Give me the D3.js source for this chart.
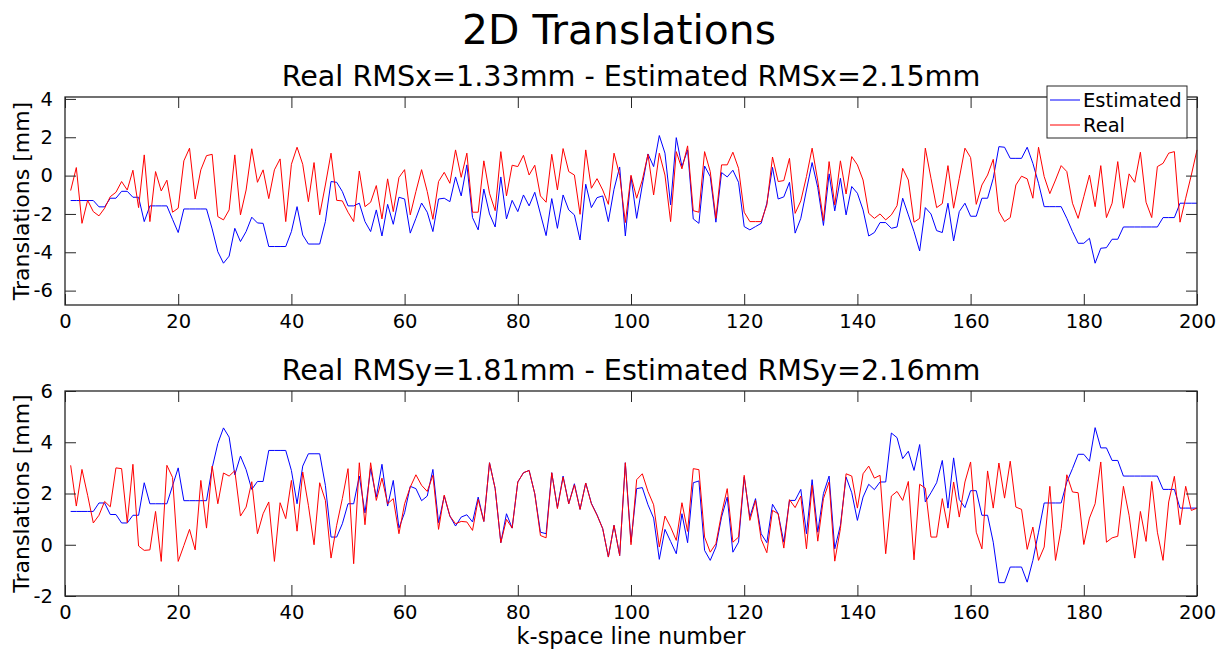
<!DOCTYPE html>
<html><head><meta charset="utf-8">
<script src="https://cdn.jsdelivr.net/npm/d3@7"></script>
<style>body{margin:0;background:#fff;} svg{display:block;} text{font-family:"DejaVu Sans",sans-serif;fill:#000;}</style>
</head><body>
<svg id="c" width="1226" height="652"></svg>
<script>
const mainTitle = "2D Translations";
const titleX = "Real RMSx=1.33mm - Estimated RMSx=2.15mm";
const titleY = "Real RMSy=1.81mm - Estimated RMSy=2.16mm";
const yLabel = "Translations [mm]";
const xLabel = "k-space line number";
const seriesNames = ["Estimated", "Real"];
const seriesColors = ["#0000ff", "#ff0000"];
const xTicks = [0,20,40,60,80,100,120,140,160,180,200];
const yTicksTop = [-6,-4,-2,0,2,4];
const yTicksBottom = [-2,0,2,4,6];

const estX = [
-1.3,-1.3,-1.3,-1.3,-1.3,-1.63,-1.63,-1.18,-1.18,-0.82,
-0.82,-1.13,-1.13,-2.4,-1.58,-1.58,-1.58,-1.58,-2.28,-2.97,
-1.74,-1.74,-1.74,-1.74,-1.74,-2.78,-3.97,-4.57,-4.2,-2.75,
-3.44,-2.92,-2.17,-2.47,-2.49,-3.7,-3.7,-3.7,-3.7,-2.92,
-1.62,-3.1,-3.57,-3.57,-3.57,-2.4,-0.31,-0.35,-0.83,-1.58,
-1.58,-1.44,-2.4,-2.92,-1.79,-3.15,-1.5,-2.54,-1.13,-1.22,
-3.0,-2.23,-1.43,-1.91,-2.92,-1.22,-1.18,-1.36,-0.07,-1.06,
0.56,-2.19,-2.83,-0.7,-2.0,-2.68,-0.07,-2.26,-1.29,-1.88,
-1.01,-1.58,-0.87,-2.0,-3.13,-1.2,-2.75,-1.01,-1.79,-2.05,
-3.36,-0.45,-1.67,-1.15,-1.06,-2.4,-0.71,0.45,-3.15,-0.05,
-2.23,-0.49,1.13,0.47,2.09,1.17,-1.53,1.98,0.47,1.34,
-2.26,-2.49,0.5,-0.05,-2.43,0.16,-0.07,0.28,-0.35,-2.66,
-2.83,-2.66,-2.49,-1.44,0.43,-1.22,-1.11,-0.35,-3.0,-2.23,
-0.75,0.68,-0.63,-2.6,0.09,-1.84,-0.14,-2.05,-0.57,-0.92,
-1.79,-3.15,-2.97,-2.45,-2.45,-2.75,-2.68,-1.18,-2.05,-2.92,
-3.93,-1.67,-2.0,-2.87,-2.97,-1.44,-3.41,-1.88,-1.44,-2.12,
-2.12,-1.18,-1.18,-0.14,1.51,1.48,0.9,0.9,0.9,1.48,
0.64,-0.4,-1.62,-1.62,-1.62,-1.62,-2.23,-2.92,-3.53,-3.53,
-3.27,-4.57,-3.79,-3.76,-3.32,-3.32,-2.68,-2.68,-2.68,-2.68,
-2.68,-2.68,-2.68,-2.19,-2.19,-2.19,-1.44,-1.44,-1.44,-1.44];

const realX = [
-0.78,0.42,-2.49,-1.29,-1.88,-2.1,-1.7,-1.1,-0.87,-0.31,
-0.75,0.28,-1.67,1.08,-2.4,0.21,-0.8,-0.24,-1.91,-1.7,
0.77,1.43,-1.22,0.3,1.04,1.11,-2.14,-2.31,-1.79,1.08,
-2.05,-0.75,1.4,-0.35,0.3,-1.2,0.3,0.87,-2.4,0.59,
1.48,0.59,-1.36,0.68,-2.05,-0.49,1.17,-1.29,-1.32,-1.91,
-2.4,0.24,-1.62,-1.39,-0.52,-2.26,-0.17,-1.88,-0.1,0.31,
-2.05,-0.83,0.31,-0.83,-2.28,-0.31,0.17,-0.4,1.34,-0.09,
1.17,-1.91,-1.91,0.77,-0.92,-1.83,1.25,-1.06,0.54,0.47,
1.06,0.03,0.54,-1.06,-1.39,1.11,-0.75,1.41,0.21,0.03,
-2.02,1.34,-0.66,-0.16,-0.75,-1.5,1.17,0.02,-2.45,0.02,
-1.18,-0.23,1.11,-1.01,1.17,0.03,-2.4,1.25,0.35,1.55,
-1.83,-1.91,1.25,0.21,-2.23,0.56,0.56,1.22,0.38,-1.91,
-2.4,-2.4,-2.4,-1.53,0.97,-0.31,-0.26,0.9,-1.97,-1.32,
-0.05,1.43,-0.28,-2.35,0.73,-1.53,0.77,-0.96,0.99,0.56,
-0.23,-1.97,-2.23,-2.0,-2.31,-2.05,-1.57,0.38,-0.23,-2.43,
-2.23,1.43,-0.14,-1.67,-1.46,0.52,-1.7,-0.14,1.43,0.94,
-1.5,-0.49,0.03,0.85,-1.88,-2.4,-2.19,-0.49,-0.03,-0.17,
-1.18,1.48,-0.05,-0.94,-0.23,0.52,0.21,-1.44,-2.23,-1.1,
0.03,-1.62,0.52,-2.19,-1.44,0.73,-1.7,0.09,-0.35,1.22,
-1.39,-2.19,0.47,0.64,1.17,1.25,-2.43,-1.18,0.03,1.34];

const estY = [
1.3,1.3,1.3,1.3,1.3,1.63,1.63,1.18,1.18,0.85,
0.85,1.15,1.15,2.42,1.6,1.6,1.6,1.6,2.3,3.0,
1.72,1.72,1.72,1.72,1.72,3.0,3.95,4.56,4.2,2.73,
3.46,2.93,2.16,2.47,2.47,3.68,3.68,3.68,3.68,2.9,
1.6,3.07,3.55,3.55,3.55,2.32,0.3,0.3,0.82,1.6,
1.6,2.68,1.24,2.97,1.86,3.14,1.51,2.51,0.65,1.25,
2.28,2.19,1.72,1.9,2.94,0.86,1.9,1.12,0.73,1.08,
1.17,0.89,1.86,0.91,3.2,2.19,0.08,1.21,0.65,2.45,
2.81,2.9,1.99,0.49,0.43,2.81,1.45,2.68,1.6,2.38,
1.38,2.41,1.62,1.17,0.63,-0.48,0.76,-0.42,3.2,0.1,
2.19,2.23,1.56,1.04,-0.57,0.6,0.13,-0.35,1.21,0.08,
2.42,2.49,-0.22,-0.61,-0.09,1.08,1.86,-0.29,0.1,2.64,
1.08,1.8,0.43,0.08,1.58,1.21,0.1,1.73,1.73,2.16,
0.43,2.54,0.49,2.0,2.68,-0.16,0.76,2.64,2.03,0.95,
1.86,2.36,2.15,2.45,2.45,4.36,4.18,3.36,3.65,2.9,
3.91,1.67,2.03,2.42,3.29,1.43,3.39,1.77,1.45,2.11,
2.11,1.15,1.15,0.1,-1.48,-1.48,-0.87,-0.87,-0.87,-1.46,
-0.61,0.49,1.63,1.63,1.63,1.63,2.45,2.97,3.53,3.53,
3.26,4.57,3.78,3.78,3.29,3.29,2.68,2.68,2.68,2.68,
2.68,2.68,2.68,2.16,2.16,2.16,1.43,1.43,1.43,1.43];

const realY = [
3.1,1.51,2.94,1.93,0.85,1.15,1.69,1.48,3.0,2.97,
0.86,3.14,-0.05,-0.22,-0.2,1.3,-0.65,3.1,2.63,-0.65,
-0.03,0.6,-0.2,2.51,0.65,3.07,1.6,2.8,2.68,2.89,
1.12,1.47,2.46,0.43,1.21,1.67,-0.65,1.64,1.02,2.51,
0.53,2.84,1.54,0.0,2.42,1.73,-0.52,0.76,1.8,2.97,
-0.74,3.2,0.78,3.2,1.73,2.6,1.6,1.8,0.43,1.6,
2.25,2.73,2.32,2.08,2.71,0.6,1.94,1.12,0.82,0.91,
0.89,0.56,1.77,0.91,3.2,2.19,0.08,0.99,0.65,2.45,
2.81,2.9,1.99,0.36,0.27,2.81,1.41,2.64,1.6,2.34,
1.38,2.41,1.6,1.15,0.63,-0.48,0.76,-0.42,3.2,0.0,
2.54,2.77,2.08,1.56,-0.09,1.12,0.69,0.17,1.64,0.52,
2.97,2.93,0.3,-0.29,0.04,1.21,2.19,0.1,0.3,2.71,
0.95,1.73,0.21,-0.31,1.34,1.21,-0.13,1.76,1.45,1.9,
-0.16,2.32,0.14,1.8,2.45,-0.64,0.63,2.77,2.68,1.43,
2.77,3.07,2.6,2.71,-0.35,1.9,2.08,1.73,2.47,-0.59,
2.36,2.21,0.3,0.3,1.8,0.65,2.45,1.08,2.45,3.23,
0.49,-0.16,2.88,1.43,3.19,1.82,3.26,1.47,1.38,-0.18,
0.69,-0.61,-0.09,2.28,-0.61,0.63,2.73,2.06,2.03,0.01,
1.04,1.6,3.23,0.1,0.27,0.33,2.28,1.15,-0.52,1.3,
0.13,2.47,0.49,-0.61,1.67,2.67,0.78,2.28,1.34,1.43];

const lineIndex = d3.range(1, 201);

const svg = d3.select("#c");
const axisColor = "#262626";
const L = 65, R = 1197;
const x = d3.scaleLinear().domain([0, 200]).range([L, R]);

function panel(top, bottom, yDomain, yTicks, est, real, title, showXLabel) {
  const y = d3.scaleLinear().domain(yDomain).range([bottom, top]);
  const g = svg.append("g");
  const line = d3.line().x((d, i) => x(lineIndex[i])).y(d => y(d));
  g.append("path").datum(est).attr("d", line).attr("fill", "none")
    .attr("stroke", seriesColors[0]).attr("stroke-width", 1);
  g.append("path").datum(real).attr("d", line).attr("fill", "none")
    .attr("stroke", seriesColors[1]).attr("stroke-width", 1);

  const styleAxis = a => {
    a.select(".domain").remove();
    a.selectAll(".tick line").attr("stroke", axisColor).attr("stroke-width", 1);
    a.selectAll(".tick text").attr("fill", axisColor)
      .style("font-family", "DejaVu Sans").style("font-size", "19.5px");
  };
  const fmt = d => (d < 0 ? "-" + Math.abs(d) : "" + d);
  g.append("g").attr("transform", `translate(0,${bottom})`)
    .call(d3.axisBottom(x).tickValues(xTicks).tickSize(-11).tickPadding(9).tickFormat(fmt)).call(styleAxis);
  g.append("g").attr("transform", `translate(0,${top})`)
    .call(d3.axisTop(x).tickValues(xTicks).tickSize(-11).tickFormat("")).call(styleAxis);
  g.append("g").attr("transform", `translate(${L},0)`)
    .call(d3.axisLeft(y).tickValues(yTicks).tickSize(-11).tickPadding(12).tickFormat(fmt)).call(styleAxis);
  g.append("g").attr("transform", `translate(${R},0)`)
    .call(d3.axisRight(y).tickValues(yTicks).tickSize(-11).tickFormat("")).call(styleAxis);
  g.append("rect").attr("x", L).attr("y", top).attr("width", R - L).attr("height", bottom - top)
    .attr("fill", "none").attr("stroke", axisColor).attr("stroke-width", 1.3);

  g.append("text").attr("x", (L + R) / 2).attr("y", top - 11).attr("text-anchor", "middle")
    .style("font-size", "28.6px").text(title);
  g.append("text").attr("transform", `translate(29,${(top + bottom) / 2}) rotate(-90)`)
    .attr("text-anchor", "middle").style("font-size", "22px").attr("fill", axisColor).text(yLabel);
  if (showXLabel) {
    g.append("text").attr("x", (L + R) / 2).attr("y", bottom + 48).attr("text-anchor", "middle")
      .style("font-size", "22.4px").attr("fill", axisColor).text(xLabel);
  }
  return g;
}

svg.append("text").attr("x", 619).attr("y", 44).attr("text-anchor", "middle")
  .style("font-size", "40.8px").style("font-weight", "500").text(mainTitle);

panel(97, 305, [-6.75, 4.1], yTicksTop, estX, realX, titleX, false);
panel(391, 596, [-2, 6], yTicksBottom, estY, realY, titleY, true);

// legend
const lg = svg.append("g");
lg.append("rect").attr("x", 1047).attr("y", 86).attr("width", 140).attr("height", 52)
  .attr("fill", "#fff").attr("stroke", axisColor).attr("stroke-width", 1);
seriesNames.forEach((name, i) => {
  const cy = 100 + i * 25;
  lg.append("line").attr("x1", 1050).attr("x2", 1080).attr("y1", cy).attr("y2", cy)
    .attr("stroke", seriesColors[i]).attr("stroke-width", 1);
  lg.append("text").attr("x", 1083).attr("y", cy + 7).style("font-size", "19.5px").text(name);
});
</script>
</body></html>
